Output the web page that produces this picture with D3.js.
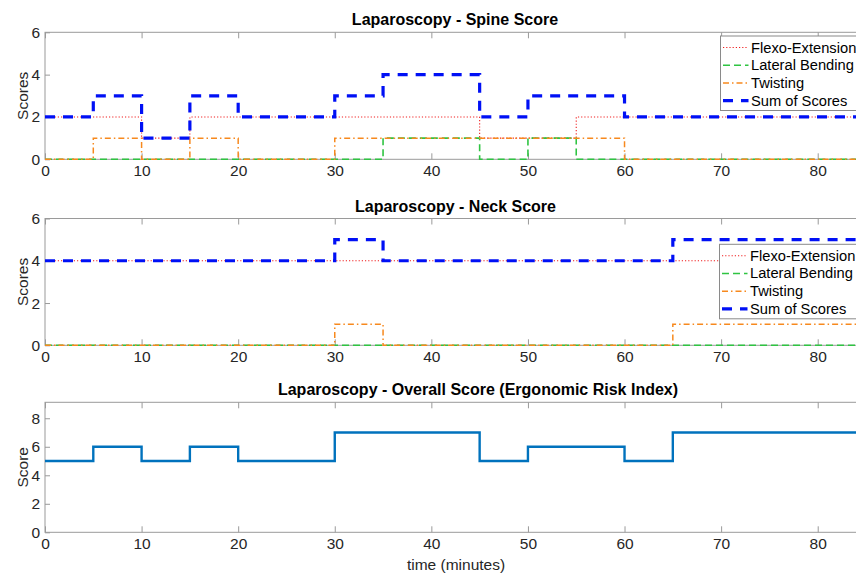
<!DOCTYPE html>
<html>
<head>
<meta charset="utf-8">
<script src="https://cdn.jsdelivr.net/npm/d3@7"></script>
<style>
  body { margin: 0; background: #fff; }
  svg { display: block; overflow: hidden; }
  svg text { font-family: "Liberation Sans", Arial, Helvetica, sans-serif; }
  .tick text { fill: #262626; font-size: 15.5px; }
  .tick line { stroke: #9a9a9a; }
</style>
</head>
<body>
<svg id="chart"></svg>
<script>
// time in minutes, one value per 5-minute step (last point closes the step)
const times = [0, 5, 10, 15, 20, 25, 30, 35, 40, 45, 50, 55, 60, 65, 70, 75, 80, 85];

const spineFlexo   = [2, 2, 1, 2, 2, 2, 2, 2, 2, 1, 1, 2, 2, 2, 2, 2, 2, 2];
const spineLateral = [0, 0, 0, 0, 0, 0, 0, 1, 1, 0, 1, 0, 0, 0, 0, 0, 0, 0];
const spineTwist   = [0, 1, 0, 1, 0, 0, 1, 1, 1, 1, 1, 1, 0, 0, 0, 0, 0, 0];
const spineSum     = [2, 3, 1, 3, 2, 2, 3, 4, 4, 2, 3, 3, 2, 2, 2, 2, 2, 2];

const neckFlexo   = [4, 4, 4, 4, 4, 4, 4, 4, 4, 4, 4, 4, 4, 4, 4, 4, 4, 4];
const neckLateral = [0, 0, 0, 0, 0, 0, 0, 0, 0, 0, 0, 0, 0, 0, 0, 0, 0, 0];
const neckTwist   = [0, 0, 0, 0, 0, 0, 1, 0, 0, 0, 0, 0, 0, 1, 1, 1, 1, 1];
const neckSum     = [4, 4, 4, 4, 4, 4, 5, 4, 4, 4, 4, 4, 4, 5, 5, 5, 5, 5];

const overall = [5, 6, 5, 6, 5, 5, 7, 7, 7, 5, 6, 6, 5, 7, 7, 7, 7, 7];

const seriesNames = ["Flexo-Extension", "Lateral Bending", "Twisting", "Sum of Scores"];
const xTicks = [0, 10, 20, 30, 40, 50, 60, 70, 80];
const scoreTicks = [0, 2, 4, 6];
const overallTicks = [0, 2, 4, 6, 8];

const w = 856;
const h = 576;

const styles = [
  { color: "#f01e1e", width: 1.1, dash: "1.2,2" },
  { color: "#2fc442", width: 1.6, dash: "7,4" },
  { color: "#f7891e", width: 1.5, dash: "6,3,1.5,3" },
  { color: "#0010f5", width: 3.2, dash: "10,8" }
];

const svg = d3.select("#chart").attr("width", w).attr("height", h);

const x = d3.scaleLinear().domain([0, 85]).range([45, 866]);
const fmt = d3.format("d");

function panel(opts) {
  const y = d3.scaleLinear().domain(opts.yDomain).range([opts.bottom, opts.top]);
  const g = svg.append("g");
  const id = "clip" + Math.round(opts.top);

  svg.append("clipPath").attr("id", id)
    .append("rect")
    .attr("x", x(0)).attr("y", opts.top - 2)
    .attr("width", x(85) - x(0)).attr("height", opts.bottom - opts.top + 4);

  // box
  g.append("rect")
    .attr("x", x(0)).attr("y", opts.top)
    .attr("width", x(85) - x(0)).attr("height", opts.bottom - opts.top)
    .attr("fill", "none").attr("stroke", "#9a9a9a").attr("stroke-width", 1);

  g.append("g")
    .attr("transform", `translate(0, ${opts.bottom})`)
    .call(d3.axisBottom(x).tickValues(xTicks).tickFormat(fmt).tickSize(-6).tickPadding(6))
    .call((a) => a.select(".domain").remove());

  g.append("g")
    .attr("transform", `translate(0, ${opts.top})`)
    .call(d3.axisTop(x).tickValues(xTicks).tickSize(-6).tickFormat(""))
    .call((a) => a.select(".domain").remove());

  g.append("g")
    .attr("transform", `translate(${x(0)}, 0)`)
    .call(d3.axisLeft(y).tickValues(opts.yTicks).tickFormat(fmt).tickSize(-5).tickPadding(5))
    .call((a) => a.select(".domain").remove());

  const line = d3.line()
    .x((d, i) => x(times[i]))
    .y((d) => y(d))
    .curve(d3.curveStepAfter);

  const lines = g.append("g").attr("clip-path", `url(#${id})`);
  opts.series.forEach((s, i) => {
    const st = opts.styles[i];
    lines.append("path")
      .datum(s)
      .attr("d", line)
      .attr("fill", "none")
      .attr("stroke", st.color)
      .attr("stroke-width", st.width)
      .attr("stroke-dasharray", st.dash);
  });

  g.append("text")
    .attr("x", opts.titleX).attr("y", opts.top - 7)
    .attr("text-anchor", "middle")
    .attr("font-weight", "bold").attr("font-size", "16px")
    .attr("fill", "#000")
    .text(opts.title);

  g.append("text")
    .attr("transform", `translate(28, ${(opts.top + opts.bottom) / 2}) rotate(-90)`)
    .attr("text-anchor", "middle")
    .attr("font-size", "15.5px").attr("fill", "#262626")
    .text(opts.yLabel);

  if (opts.legend) {
    const lg = g.append("g").attr("transform", `translate(${opts.legend.x}, ${opts.legend.y})`);
    lg.append("rect")
      .attr("x", 0).attr("y", 0).attr("width", 200).attr("height", 74.5)
      .attr("fill", "#fff").attr("stroke", "#8a8a8a").attr("stroke-width", 1);
    seriesNames.forEach((name, i) => {
      const cy = 11.5 + i * 17.7;
      const st = opts.styles[i];
      lg.append("line")
        .attr("x1", 2.5).attr("x2", 28).attr("y1", cy).attr("y2", cy)
        .attr("stroke", st.color)
        .attr("stroke-width", st.width)
        .attr("stroke-dasharray", st.dash);
      lg.append("text")
        .attr("x", 30.5).attr("y", cy + 5)
        .attr("font-size", "14.7px").attr("fill", "#000")
        .text(name);
    });
  }
}

panel({
  top: 32.3, bottom: 159.3, yDomain: [0, 6], yTicks: scoreTicks,
  series: [spineFlexo, spineLateral, spineTwist, spineSum], styles: styles,
  title: "Laparoscopy - Spine Score", titleX: 455, yLabel: "Scores",
  legend: { x: 720.5, y: 36 }
});

panel({
  top: 218.5, bottom: 345.3, yDomain: [0, 6], yTicks: scoreTicks,
  series: [neckFlexo, neckLateral, neckTwist, neckSum], styles: styles,
  title: "Laparoscopy - Neck Score", titleX: 455.5, yLabel: "Scores",
  legend: { x: 719.5, y: 244.3 }
});

panel({
  top: 402.3, bottom: 532.3, yDomain: [0, 9.12], yTicks: overallTicks,
  series: [overall], styles: [{ color: "#0072bd", width: 2.4, dash: null }],
  title: "Laparoscopy - Overall Score (Ergonomic Risk Index)", titleX: 478, yLabel: "Score"
});

svg.append("text")
  .attr("x", 456).attr("y", 570)
  .attr("text-anchor", "middle")
  .attr("font-size", "15.5px").attr("fill", "#262626")
  .text("time (minutes)");
</script>
</body>
</html>
